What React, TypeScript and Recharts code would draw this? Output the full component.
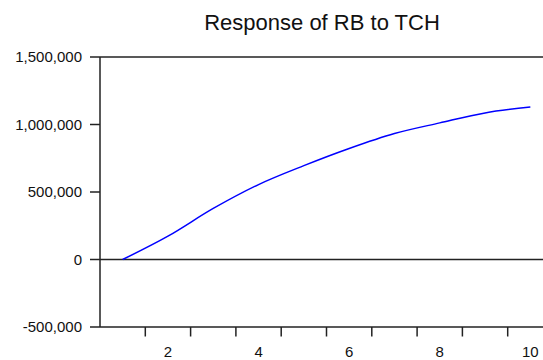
import React from "react";
import { LineChart, Line, XAxis, YAxis, ReferenceLine } from "recharts";

const periods = [1, 2, 3, 4, 5, 6, 7, 8, 9, 10];
const responses = [0, 173000, 378000, 555000, 695000, 822000, 933000, 1012000, 1086000, 1130000];
const yTicks = [-500000, 0, 500000, 1000000, 1500000];
const xLabelTicks = [2, 4, 6, 8, 10];
const xMarkTicks = [1.5, 2.5, 3.5, 4.5, 5.5, 6.5, 7.5, 8.5, 9.5, 10.5];
const title = "Response of RB to TCH";

const data = periods.map((p, i) => ({ period: p, value: responses[i] }));
const allXTicks = [...xMarkTicks, ...xLabelTicks].sort((a, b) => a - b);

const FONT = "'Liberation Sans', Arial, sans-serif";
const AXIS = "#222";

function XTick(props: any) {
  const { x, y, payload } = props;
  const v = payload.value;
  if (xLabelTicks.includes(v)) {
    return (
      <text x={x} y={y + 30} textAnchor="middle" fontSize={15} fill="#111" fontFamily={FONT}>
        {v}
      </text>
    );
  }
  return <line x1={x} x2={x} y1={y} y2={y + 9.5} stroke={AXIS} strokeWidth={1.5} />;
}

const fmt = (v: number) => v.toLocaleString("en-US");

export default function App() {
  return (
    <div
      style={{
        position: "fixed",
        left: 0,
        top: 0,
        width: 543,
        height: 360,
        overflow: "hidden",
        background: "#fff",
      }}
    >
      <div
        style={{
          position: "absolute",
          left: 322,
          top: 12,
          transform: "translateX(-50%)",
          fontFamily: FONT,
          fontSize: 22,
          lineHeight: "22px",
          color: "#111",
          whiteSpace: "nowrap",
        }}
      >
        {title}
      </div>
      <LineChart
        width={560}
        height={360}
        data={data}
        margin={{ top: 57, right: 7, bottom: 3, left: 0 }}
      >
        <XAxis
          dataKey="period"
          type="number"
          domain={[0.5, 10.5]}
          ticks={allXTicks}
          interval={0}
          tickSize={0}
          tickMargin={0}
          tickLine={false}
          height={30}
          axisLine={{ stroke: AXIS, strokeWidth: 1.5 }}
          tick={<XTick />}
        />
        <YAxis
          type="number"
          domain={[-500000, 1500000]}
          ticks={yTicks}
          interval={0}
          width={100}
          tickSize={10}
          tickMargin={8}
          tickFormatter={fmt}
          axisLine={{ stroke: AXIS, strokeWidth: 1.5 }}
          tickLine={{ stroke: AXIS, strokeWidth: 1.5 }}
          tick={{ fontSize: 15, fill: "#111", fontFamily: FONT }}
        />
        <ReferenceLine y={0} stroke={AXIS} strokeWidth={1.5} />
        <ReferenceLine y={1500000} stroke={AXIS} strokeWidth={1.5} />
        <Line
          type="monotone"
          dataKey="value"
          stroke="#0000ff"
          strokeWidth={1.5}
          dot={false}
          isAnimationActive={false}
        />
      </LineChart>
    </div>
  );
}
